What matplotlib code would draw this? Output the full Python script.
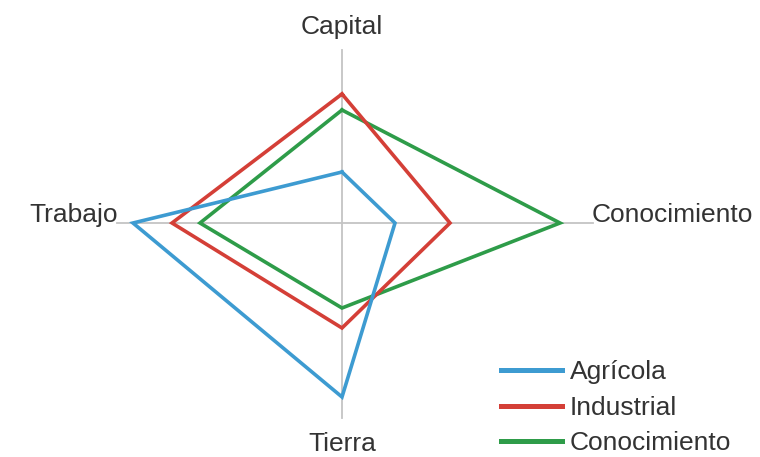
import numpy as np
import matplotlib.pyplot as plt

plt.rcParams['font.family'] = ['Liberation Sans', 'DejaVu Sans']

# axes of the radar, clockwise from the top
categories = ['Capital', 'Conocimiento', 'Tierra', 'Trabajo']
angles = np.array([90, 0, 270, 180]) * np.pi / 180
axis_len = [173, 251, 195, 225]

series = ['Agrícola', 'Industrial', 'Conocimiento']
values = {
    'Agrícola':     [51, 53, 174, 209],
    'Industrial':   [129, 108, 105, 170],
    'Conocimiento': [113, 218, 85, 142],
}
colors = {
    'Agrícola': '#3d9bd1',
    'Industrial': '#d43f37',
    'Conocimiento': '#2e9c49',
}

fig = plt.figure(figsize=(7.6, 4.57), dpi=100)
ax = fig.add_axes([0, 0, 1, 1])
ax.set_xlim(-342, 418)
ax.set_ylim(-234, 223)
ax.axis('off')

# grey axis lines
for a, L in zip(angles, axis_len):
    ax.plot([0, L * np.cos(a)], [0, L * np.sin(a)], color='#c4c4c4', lw=1.3, zorder=1)

# series polygons, drawn so that Agrícola is on top
for i, name in enumerate(reversed(series)):
    v = np.array(values[name] + values[name][:1])
    a = np.concatenate([angles, angles[:1]])
    ax.plot(v * np.cos(a), v * np.sin(a), color=colors[name], lw=2.6,
            solid_joinstyle='miter', zorder=2 + i)

# category labels
txt = dict(color='#333333', fontsize=19)
ax.text(0, 196, categories[0], ha='center', va='center', **txt)
ax.text(250, 8, categories[1], ha='left', va='center', **txt)
ax.text(0, -221, categories[2], ha='center', va='center', **txt)
ax.text(-224, 8, categories[3], ha='right', va='center', **txt)

leg = ax.legend(handles=[ax.lines[-1], ax.lines[-2], ax.lines[-3]], labels=series,
                loc='lower left', bbox_to_anchor=(0.628, -0.048), frameon=False,
                fontsize=19, handlelength=2.3, handletextpad=0.3,
                labelspacing=0.43, labelcolor='#333333')
for h in leg.get_lines():
    h.set_linewidth(3.6)

fig.savefig('out.png', dpi=100)
